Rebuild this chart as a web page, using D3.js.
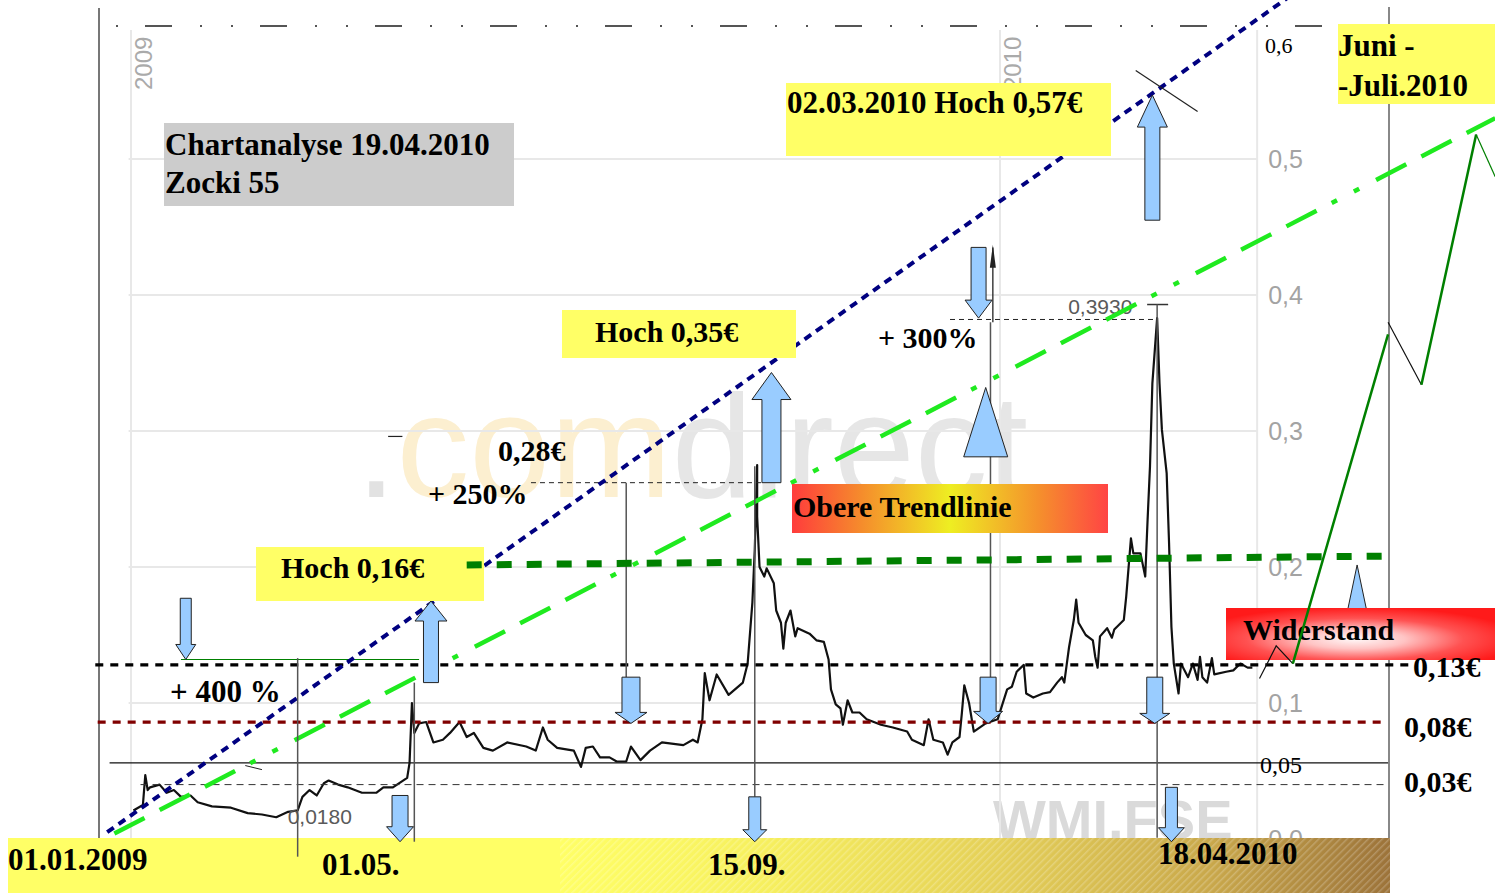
<!DOCTYPE html>
<html>
<head>
<meta charset="utf-8">
<script src="https://cdn.jsdelivr.net/npm/d3@7"></script>
<style>
  body { margin: 0; background: #fff; }
</style>
</head>
<body>
<div id="chart"></div>
<script>
// ---- price series (WMI.FSE) ----
const priceDates = [
  "2009-01-02","2009-01-06","2009-01-07","2009-01-08","2009-01-09","2009-01-13","2009-01-16","2009-01-19",
  "2009-01-22","2009-01-26","2009-01-29","2009-02-04","2009-02-12","2009-02-19","2009-02-25","2009-03-03",
  "2009-03-08","2009-03-12","2009-03-14","2009-03-17","2009-03-20","2009-03-23","2009-03-25","2009-03-29",
  "2009-04-02","2009-04-08","2009-04-14","2009-04-17","2009-04-21","2009-04-27","2009-04-28","2009-04-29",
  "2009-04-30","2009-05-02","2009-05-05","2009-05-08","2009-05-12","2009-05-15","2009-05-19","2009-05-22",
  "2009-05-25","2009-05-29","2009-06-02","2009-06-08","2009-06-16","2009-06-20","2009-06-23","2009-06-25",
  "2009-06-29","2009-07-06","2009-07-09","2009-07-11","2009-07-14","2009-07-17","2009-07-21","2009-07-24",
  "2009-07-28","2009-07-30","2009-08-03","2009-08-07","2009-08-12","2009-08-21","2009-08-25","2009-08-27",
  "2009-08-29","2009-08-30","2009-09-01","2009-09-04","2009-09-09","2009-09-15","2009-09-17","2009-09-19",
  "2009-09-20","2009-09-21","2009-09-21","2009-09-22","2009-09-24","2009-09-25","2009-09-28","2009-09-29",
  "2009-10-01","2009-10-02","2009-10-03","2009-10-05","2009-10-07","2009-10-08","2009-10-13","2009-10-16",
  "2009-10-19","2009-10-21","2009-10-22","2009-10-24","2009-10-26","2009-10-27","2009-10-29","2009-10-31",
  "2009-11-03","2009-11-06","2009-11-12","2009-11-17","2009-11-23","2009-11-25","2009-11-30","2009-12-02",
  "2009-12-04","2009-12-08","2009-12-10","2009-12-12","2009-12-15","2009-12-16","2009-12-17","2009-12-19",
  "2009-12-21","2009-12-26","2009-12-31","2010-01-04","2010-01-06","2010-01-08","2010-01-11","2010-01-12",
  "2010-01-15","2010-01-19","2010-01-22","2010-01-25","2010-01-27","2010-01-28","2010-01-29","2010-01-30",
  "2010-02-01","2010-02-02","2010-02-03","2010-02-06","2010-02-09","2010-02-10","2010-02-11","2010-02-12",
  "2010-02-15","2010-02-17","2010-02-18","2010-02-22","2010-02-23","2010-02-25","2010-02-26","2010-03-01",
  "2010-03-03","2010-03-04","2010-03-05","2010-03-06","2010-03-08","2010-03-09","2010-03-10","2010-03-12",
  "2010-03-13","2010-03-14","2010-03-15","2010-03-17","2010-03-18","2010-03-21","2010-03-23","2010-03-25",
  "2010-03-26","2010-03-27","2010-03-29","2010-03-31","2010-04-01","2010-04-06","2010-04-09","2010-04-12",
  "2010-04-15","2010-04-17"
];
const priceValues = [
  0.021,0.025,0.047,0.036,0.038,0.040,0.034,0.036,
  0.031,0.032,0.027,0.024,0.023,0.019,0.018,0.016,
  0.020,0.021,0.031,0.036,0.032,0.041,0.043,0.040,
  0.038,0.034,0.034,0.038,0.038,0.045,0.056,0.100,
  0.078,0.085,0.086,0.071,0.073,0.078,0.086,0.075,
  0.078,0.067,0.065,0.071,0.068,0.065,0.082,0.073,
  0.067,0.065,0.053,0.067,0.068,0.060,0.060,0.057,
  0.057,0.068,0.058,0.065,0.071,0.069,0.073,0.071,
  0.088,0.122,0.102,0.121,0.106,0.115,0.129,0.174,
  0.213,0.275,0.237,0.200,0.193,0.199,0.188,0.168,
  0.159,0.140,0.159,0.168,0.149,0.155,0.151,0.146,
  0.145,0.132,0.110,0.099,0.096,0.084,0.102,0.093,
  0.093,0.088,0.084,0.082,0.079,0.073,0.069,0.088,
  0.073,0.071,0.062,0.071,0.075,0.093,0.113,0.100,
  0.079,0.085,0.088,0.110,0.112,0.123,0.128,0.107,
  0.104,0.107,0.108,0.115,0.119,0.115,0.128,0.141,
  0.161,0.176,0.159,0.150,0.146,0.134,0.126,0.149,
  0.155,0.148,0.154,0.161,0.178,0.221,0.210,0.210,
  0.193,0.235,0.274,0.335,0.383,0.335,0.301,0.269,
  0.218,0.156,0.129,0.107,0.129,0.119,0.129,0.117,
  0.134,0.119,0.115,0.133,0.121,0.123,0.124,0.129,
  0.126,0.126
];

// ---- axis ticks ----
const yTicks = [0, 0.1, 0.2, 0.3, 0.4, 0.5];
const yearTicks = ["2009-01-01", "2010-01-01"];
const yearLabels = ["2009", "2010"];
const gridEnd = "2010-04-19";

// ---- marked extremes ----
const lowDate = "2009-03-12", lowValue = 0.018, lowLabel = "0,0180";
const highDate = "2010-03-08", highValue = 0.393, highLabel = "0,3930";

// ---- horizontal levels [start, end, value] ----
const levelResist13 = ["2008-12-17", "2010-06-23", 0.128];
const levelSupport08 = ["2008-12-18", "2010-06-12", 0.086];
const levelLine05 = ["2008-12-23", "2010-06-13", 0.056];
const levelSupport03 = ["2009-01-05", "2010-06-13", 0.040];
const levelHigh16 = ["2009-01-22", "2009-05-02", 0.132];
const levelHigh28 = ["2009-06-18", "2009-09-23", 0.262];
const levelHigh39 = ["2009-12-11", "2010-03-08", 0.382];
const resistanceDates = ["2009-05-22", "2010-06-11"];
const resistanceValues = [0.2015, 0.208];

// ---- trend lines ----
const upperTrendDates = ["2008-12-22", "2010-05-03"];
const upperTrendValues = [0.005, 0.620];
const lowerTrendDates = ["2008-12-25", "2010-07-28"];
const lowerTrendValues = [0.004, 0.530];

// ---- forecast zigzag ----
const forecastDates = ["2010-05-04", "2010-06-13", "2010-06-27", "2010-07-20", "2010-07-28"];
const forecastValues = [0.129, 0.371, 0.334, 0.518, 0.487];
const kinkDates = ["2010-04-20", "2010-04-27", "2010-05-04"];
const kinkValues = [0.118, 0.142, 0.129];
const pullbackDates = ["2010-06-13", "2010-06-27"];
const pullbackValues = [0.380, 0.334];

// ---- vertical markers [date, from, to] ----
const markerLines = [
  ["2009-03-12", 0.133, -0.013],
  ["2009-04-30", 0.115, -0.002],
  ["2009-07-28", 0.262, 0.119],
  ["2009-09-20", 0.274, 0.031],
  ["2009-12-28", 0.380, 0.119],
  ["2010-03-08", 0.393, 0.001]
];

// ---- block arrows [date, tail value, tip value] ----
const arrowMarks = [
  ["2009-01-24", 0.177, 0.132],
  ["2009-04-24", 0.032, -0.002],
  ["2009-07-30", 0.119, 0.085],
  ["2009-09-20", 0.031, -0.002],
  ["2009-12-27", 0.119, 0.085],
  ["2010-03-07", 0.119, 0.085],
  ["2010-03-14", 0.038, -0.002],
  ["2009-12-23", 0.435, 0.383],
  ["2009-05-07", 0.115, 0.175],
  ["2009-09-27", 0.262, 0.343],
  ["2010-03-06", 0.455, 0.547]
];
// shaft half width, head half width, head length (px)
const arrowSizes = [
  [5.5, 10, 15], [8, 13.5, 15], [9, 16, 11], [6, 12, 12], [8, 14.5, 12], [8, 15, 10],
  [6, 13, 14], [7.5, 13.5, 18], [7.5, 16, 20], [9.5, 19.5, 27], [7.5, 15, 32]
];
// triangles [date, base value, apex value]
const triangleMarks = [["2009-12-26", 0.281, 0.332], ["2010-05-31", 0.163, 0.2015]];
const triangleHalf = [22, 11];

// ---- annotation texts ----
const titleLines = ["Chartanalyse 19.04.2010", "Zocki 55"];
const dateLabels = ["01.01.2009", "01.05.", "15.09.", "18.04.2010"];
const priceLabels = ["0,13€", "0,08€", "0,03€"];

// ==== SETUP ====
const W = 1495, H = 893;
const sans = "'Liberation Sans', Arial, sans-serif";
const serif = "'Liberation Serif', 'Times New Roman', serif";
const parse = d3.timeParse("%Y-%m-%d");

const x = d3.scaleTime()
  .domain([parse("2009-01-01"), parse("2010-01-01")])
  .range([131, 1000]);
const y = d3.scaleLinear().domain([0, 0.6]).range([839, 23]);
const X = (d) => x(parse(d));

const svg = d3.select("#chart").append("svg")
  .attr("width", W).attr("height", H)
  .style("display", "block")
  .style("background", "#fff");

const defs = svg.append("defs");

const banner = defs.append("linearGradient").attr("id", "bannerGrad")
  .attr("gradientUnits", "userSpaceOnUse").attr("x1", 8).attr("x2", 1390).attr("y1", 0).attr("y2", 0);
[[0, "#ffff66"], [0.4, "#ffff66"], [0.55, "#f6ef5e"], [0.72, "#e4cf58"], [0.87, "#c9a84b"], [1, "#9c733a"]]
  .forEach(([o, c]) => banner.append("stop").attr("offset", o).attr("stop-color", c));

const trendGrad = defs.append("linearGradient").attr("id", "trendGrad");
[[0, "#ff3c3c"], [0.22, "#f58c2c"], [0.5, "#eeee22"], [0.78, "#f5902c"], [1, "#ff4444"]]
  .forEach(([o, c]) => trendGrad.append("stop").attr("offset", o).attr("stop-color", c));

const resGrad = defs.append("radialGradient").attr("id", "resGrad")
  .attr("cx", 0.48).attr("cy", 0.6).attr("r", 0.62);
[[0, "#fff8f8"], [0.3, "#ffc4c4"], [0.65, "#ff5252"], [1, "#ff1a1a"]]
  .forEach(([o, c]) => resGrad.append("stop").attr("offset", o).attr("stop-color", c));

const stripes = defs.append("pattern").attr("id", "stripes")
  .attr("patternUnits", "userSpaceOnUse").attr("width", 5).attr("height", 5)
  .attr("patternTransform", "rotate(45)");
stripes.append("rect").attr("width", 1.5).attr("height", 5).attr("fill", "#fff").attr("opacity", 0.22);

// ==== WATERMARKS ====
const wm = svg.append("text")
  .attr("x", 356).attr("y", 497)
  .attr("font-family", sans).attr("font-size", 146)
  .attr("textLength", 672).attr("lengthAdjust", "spacingAndGlyphs");
wm.append("tspan").attr("fill", "#e2e2e2").text(".");
wm.append("tspan").attr("fill", "#fcefd0").text("com");
wm.append("tspan").attr("fill", "#e6e6e6").text("direct");

svg.append("text")
  .attr("x", 993).attr("y", 839)
  .attr("font-family", sans).attr("font-weight", "bold").attr("font-size", 56)
  .attr("fill", "#dadada").text("WMI.FSE");

// ==== GRID AND AXES ====
const grid = svg.append("g").attr("stroke", "#e8e8e8").attr("stroke-width", 2);
yTicks.filter((v) => v > 0).forEach((v) => {
  grid.append("line")
    .attr("x1", X("2008-12-31")).attr("x2", X(gridEnd))
    .attr("y1", y(v)).attr("y2", y(v));
});
yearTicks.concat([gridEnd]).forEach((d) => {
  grid.append("line")
    .attr("x1", X(d)).attr("x2", X(d))
    .attr("y1", 30).attr("y2", y(0));
});

const yAxis = d3.axisRight(y)
  .tickValues(yTicks)
  .tickSize(0)
  .tickPadding(0)
  .tickFormat((v) => d3.format(".1f")(v).replace(".", ","));
svg.append("g")
  .attr("transform", `translate(${X(gridEnd) + 11},0)`)
  .call(yAxis)
  .call((g) => g.select(".domain").remove())
  .call((g) => g.selectAll("text")
    .attr("font-family", sans).attr("font-size", 25).attr("fill", "#a3a3a3"));

yearTicks.forEach((d, i) => {
  svg.append("text")
    .attr("transform", `translate(${X(d) + 21},90) rotate(-90)`)
    .attr("font-family", sans).attr("font-size", 24).attr("fill", "#aaaaaa")
    .text(yearLabels[i]);
});

// ==== PRICE LINE ====
const prices = priceDates.map((d, i) => ({ date: parse(d), v: priceValues[i] }));
const line = d3.line().x((d) => x(d.date)).y((d) => y(d.v));
svg.append("path")
  .datum(prices)
  .attr("d", line)
  .attr("fill", "none")
  .attr("stroke", "#111")
  .attr("stroke-width", 2.2)
  .attr("stroke-linejoin", "round");

// extremes
svg.append("text")
  .attr("x", X(lowDate) - 10).attr("y", y(lowValue) + 9)
  .attr("font-family", sans).attr("font-size", 21).attr("fill", "#5a5a5a")
  .text(lowLabel);
svg.append("text")
  .attr("x", X(highDate) - 89).attr("y", y(highValue) + 9)
  .attr("font-family", sans).attr("font-size", 21).attr("fill", "#5a5a5a")
  .text(highLabel);
svg.append("line")
  .attr("x1", X(highDate) - 10).attr("x2", X(highDate) + 11)
  .attr("y1", y(highValue)).attr("y2", y(highValue))
  .attr("stroke", "#333").attr("stroke-width", 1.5);

// ==== FRAME ====
svg.append("line").attr("x1", 99).attr("x2", 99).attr("y1", 8).attr("y2", 838)
  .attr("stroke", "#777").attr("stroke-width", 2);
svg.append("line").attr("x1", 1389).attr("x2", 1389).attr("y1", 7).attr("y2", 838)
  .attr("stroke", "#888").attr("stroke-width", 2);
svg.append("line").attr("x1", 115).attr("x2", 1362).attr("y1", 26).attr("y2", 26)
  .attr("stroke", "#555").attr("stroke-width", 2)
  .attr("stroke-dasharray", "27,28,2,29,2,27").attr("stroke-dashoffset", -30);

// ==== LEVEL LINES ====
function level(def, stroke, width, dash) {
  svg.append("line")
    .attr("x1", X(def[0])).attr("x2", X(def[1]))
    .attr("y1", y(def[2])).attr("y2", y(def[2]))
    .attr("stroke", stroke).attr("stroke-width", width)
    .attr("stroke-dasharray", dash);
}
level(levelLine05, "#111", 1.3, null);
level(levelSupport03, "#333", 1, "7,5");
level(levelSupport08, "#800000", 3.2, "8,7");
level(levelResist13, "#000", 3.2, "8,7");
level(levelHigh16, "#008000", 1.2, null);
level(levelHigh28, "#222", 1, "5,4");
level(levelHigh39, "#222", 1, "5,4");

// small stray strokes from the original sketch
svg.append("line").attr("x1", X("2009-04-19")).attr("x2", X("2009-04-25"))
  .attr("y1", y(0.296)).attr("y2", y(0.296)).attr("stroke", "#222").attr("stroke-width", 1.2);
svg.append("line").attr("x1", X("2009-02-18")).attr("x2", X("2009-02-25"))
  .attr("y1", y(0.054)).attr("y2", y(0.051)).attr("stroke", "#222").attr("stroke-width", 1);

// ==== TREND LINES ====
function polyline(dates, values, stroke, width, dash) {
  const pts = dates.map((d, i) => [X(d), y(values[i])]);
  return svg.append("path")
    .attr("d", d3.line()(pts))
    .attr("fill", "none")
    .attr("stroke", stroke).attr("stroke-width", width)
    .attr("stroke-dasharray", dash);
}
polyline(lowerTrendDates, lowerTrendValues, "#1fea1f", 4.5, "34,17,34,17,34,17,6,19,6,19");
polyline(upperTrendDates, upperTrendValues, "#000080", 4, "8,6");

// cross mark at the 0,57 target
svg.append("line").attr("x1", X("2010-02-27")).attr("x2", X("2010-03-25"))
  .attr("y1", y(0.565)).attr("y2", y(0.535)).attr("stroke", "#222").attr("stroke-width", 1.2);

// ==== BANNER ====
svg.append("rect").attr("x", 8).attr("y", 838).attr("width", 1382).attr("height", 55)
  .attr("fill", "url(#bannerGrad)");
svg.append("rect").attr("x", 560).attr("y", 838).attr("width", 830).attr("height", 55)
  .attr("fill", "url(#stripes)");

// ==== VERTICAL MARKERS ====
markerLines.forEach(([d, a, b]) => {
  svg.append("line")
    .attr("x1", X(d)).attr("x2", X(d))
    .attr("y1", y(a)).attr("y2", y(b))
    .attr("stroke", "#555").attr("stroke-width", 1.5);
});
// thin arrow pointing up to the 0,57 target
svg.append("line").attr("x1", X("2009-12-29")).attr("x2", X("2009-12-29"))
  .attr("y1", y(0.380)).attr("y2", y(0.435))
  .attr("stroke", "#222").attr("stroke-width", 1.3);
svg.append("path")
  .attr("d", `M${X("2009-12-29") - 3},${y(0.420)}L${X("2009-12-29")},${y(0.437)}L${X("2009-12-29") + 3},${y(0.420)}Z`)
  .attr("fill", "#222");

// ==== TEXT BOXES ====
function box(x0, y0, w, h, fill) {
  svg.append("rect").attr("x", x0).attr("y", y0).attr("width", w).attr("height", h).attr("fill", fill);
}
function label(tx, ty, text, size, opts = {}) {
  return svg.append("text")
    .attr("x", tx).attr("y", ty)
    .attr("font-family", opts.family || serif)
    .attr("font-weight", opts.weight || "bold")
    .attr("font-size", size)
    .attr("fill", opts.fill || "#000")
    .attr("text-anchor", opts.anchor || "start")
    .text(text);
}

box(164, 123, 350, 83, "#cccccc");
label(165, 155, titleLines[0], 31);
label(165, 193, titleLines[1], 31);

box(786, 83, 325, 73, "#ffff66");
label(787, 113, "02.03.2010 Hoch 0,57€", 31);

box(562, 310, 234, 48, "#ffff66");
label(595, 342, "Hoch 0,35€", 30);

box(256, 547, 228, 54, "#ffff66");
label(281, 578, "Hoch 0,16€", 30);

box(1338, 24, 157, 80, "#ffff66");
label(1338, 56, "Juni -", 31);
label(1338, 96, "-Juli.2010", 31);

box(792, 484, 316, 49, "url(#trendGrad)");
label(793, 517, "Obere Trendlinie", 30);

// triangle under the resistance box
triangleMarks.forEach(([d, base, apex], i) => {
  const cx = X(d), hw = triangleHalf[i];
  svg.append("path")
    .attr("d", `M${cx - hw},${y(base)}L${cx},${y(apex)}L${cx + hw},${y(base)}Z`)
    .attr("fill", "#99ccff").attr("stroke", "#222").attr("stroke-width", 1);
});

box(1226, 608, 269, 52, "url(#resGrad)");
label(1243, 640, "Widerstand", 30);

// resistance band (dashed green) over the boxes
polyline(resistanceDates, resistanceValues, "#008000", 7, "15,15");

// forecast
polyline(kinkDates, kinkValues, "#111", 1.2, null);
polyline(pullbackDates, pullbackValues, "#111", 1.2, null);
polyline(forecastDates.slice(0, 2), forecastValues.slice(0, 2), "#008000", 2.5, null);
polyline(forecastDates.slice(2, 4), forecastValues.slice(2, 4), "#008000", 2.5, null);
polyline(forecastDates.slice(3, 5), forecastValues.slice(3, 5), "#008000", 1.2, null);

// ==== BLOCK ARROWS ====
function arrowPath(cx, tail, tip, sw, hw, hl) {
  const dir = tip > tail ? 1 : -1;
  const neck = tip - dir * hl;
  return `M${cx - sw},${tail}L${cx + sw},${tail}L${cx + sw},${neck}L${cx + hw},${neck}` +
    `L${cx},${tip}L${cx - hw},${neck}L${cx - sw},${neck}Z`;
}
svg.append("g").selectAll("path")
  .data(arrowMarks)
  .enter()
  .append("path")
  .attr("d", (d, i) => arrowPath(X(d[0]), y(d[1]), y(d[2]), ...arrowSizes[i]))
  .attr("fill", "#99ccff")
  .attr("stroke", "#222")
  .attr("stroke-width", 1);

// ==== FREE LABELS ====
label(170, 702, "+ 400 %", 31);
label(498, 461, "0,28€", 30);
label(428, 504, "+ 250%", 30);
label(878, 348, "+ 300%", 30);
label(1265, 53, "0,6", 22, { weight: "normal" });
label(1260, 773, "0,05", 24, { weight: "normal" });
label(1413, 677, priceLabels[0], 30);
label(1404, 737, priceLabels[1], 30);
label(1404, 792, priceLabels[2], 30);

label(8, 870, dateLabels[0], 31);
label(322, 875, dateLabels[1], 31);
label(708, 875, dateLabels[2], 31);
label(1158, 864, dateLabels[3], 31);
</script>
</body>
</html>
